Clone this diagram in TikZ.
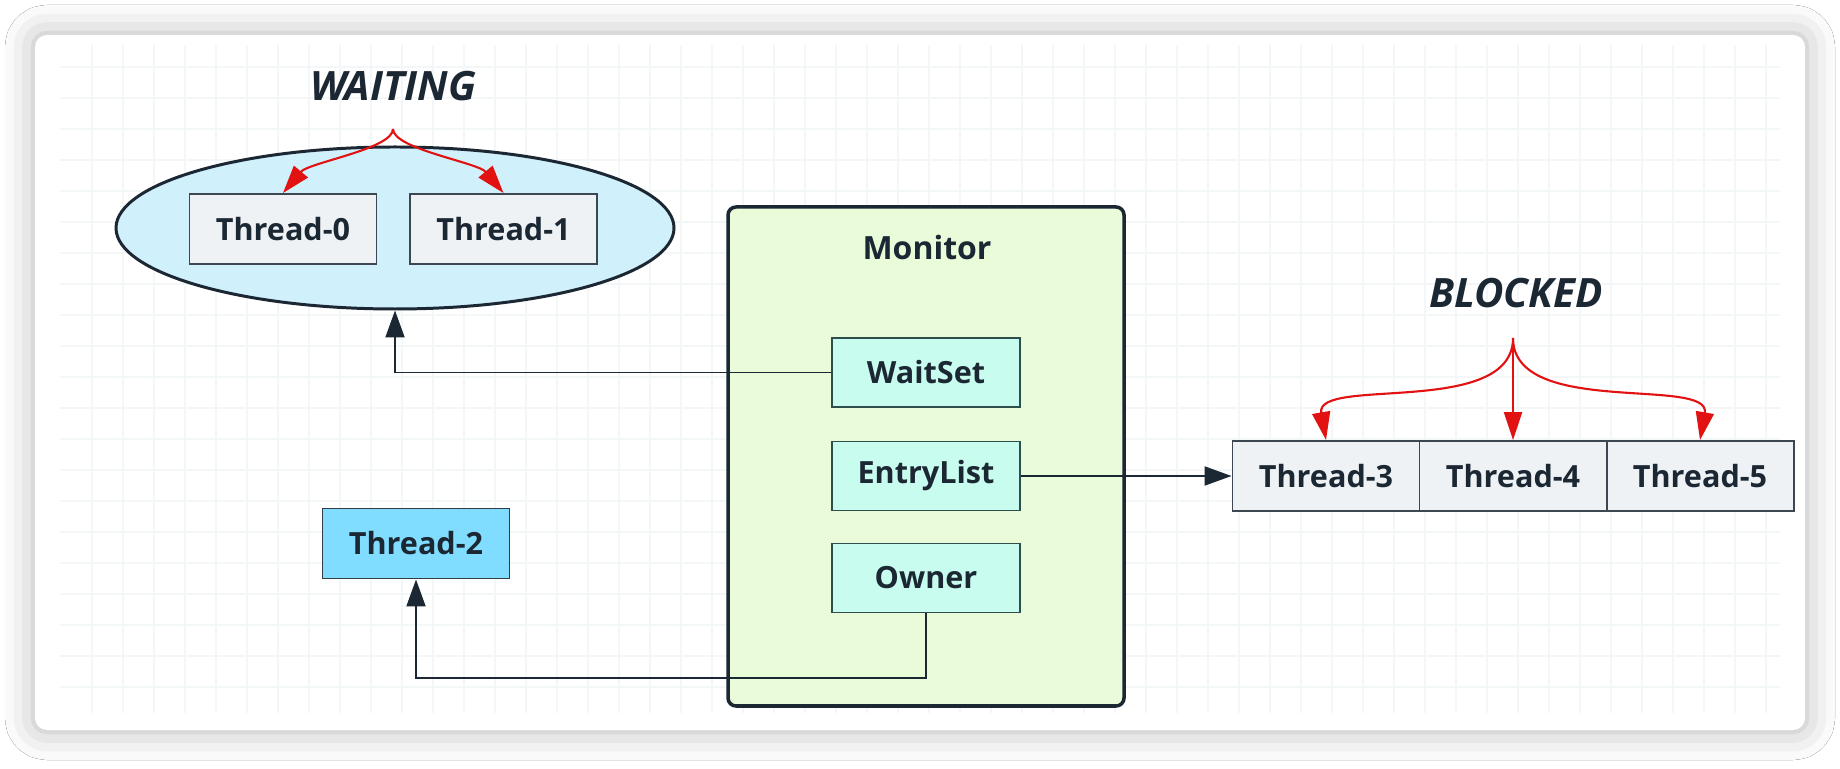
\documentclass[tikz,border=0pt]{standalone}
\usepackage{fontspec}
\setmainfont{Open Sans}
\usetikzlibrary{shapes.geometric,arrows.meta,shadows.blur}
\definecolor{inkblue}{RGB}{27,39,51}
\definecolor{threadgray}{RGB}{238,242,245}
\definecolor{poolblue}{RGB}{208,240,251}
\definecolor{monitorgreen}{RGB}{234,251,218}
\definecolor{slotcyan}{RGB}{200,252,238}
\definecolor{slotline}{RGB}{45,78,74}
\definecolor{ownerblue}{RGB}{128,221,255}
\definecolor{wakered}{RGB}{226,18,18}
\definecolor{gridc}{RGB}{243,247,247}

\begin{document}
\begin{tikzpicture}[
    every node/.style={font=\fontsize{8.7}{10}\selectfont\bfseries, text=inkblue},
    threadbox/.style={draw=inkblue!85, line width=0.55pt, fill=threadgray, minimum width=1.87cm, minimum height=0.70cm, inner sep=0pt},
    slot/.style={draw=slotline, line width=0.55pt, fill=slotcyan, minimum width=1.88cm, minimum height=0.69cm, inner sep=0pt},
    statelabel/.style={font=\fontsize{11.5}{13}\selectfont\bfseries\itshape},
    link/.style={draw=inkblue, line width=0.55pt, -{Triangle[length=0.27cm,width=0.19cm]}},
    wake/.style={draw=wakered, line width=0.6pt, -{Triangle[length=0.28cm,width=0.18cm]}},
  ]
    \useasboundingbox (0,0) rectangle (18.4,7.68);
    \fill[white] (0,0) rectangle (18.4,7.68);
    \fill[white, rounded corners=0.12cm, blur shadow={shadow xshift=0pt, shadow yshift=0pt, shadow blur radius=0.3cm, shadow opacity=30}] (0.35,0.38) rectangle (18.05,7.33);
    \foreach \gx in {0,...,54} \draw[gridc, line width=0.3pt] (0.92+0.31*\gx,0.55) -- ++(0,6.68);
    \foreach \gy in {0,...,20} \draw[gridc, line width=0.3pt] (0.6,7.01-0.31*\gy) -- (17.8,7.01-0.31*\gy);

    \node[statelabel] (waiting) at (3.93,6.82) {WAITING};
    \node[draw=inkblue, line width=0.85pt, fill=poolblue, ellipse, minimum width=5.58cm, minimum height=1.62cm] (pool) at (3.95,5.40) {};
    \node[threadbox] (t0) at (2.83,5.39) {Thread-0};
    \node[threadbox] (t1) at (5.035,5.39) {Thread-1};

    \node[draw=inkblue, line width=1pt, fill=monitorgreen, rounded corners=0.08cm, minimum width=3.96cm, minimum height=4.99cm] (monitor) at (9.26,3.115) {};
    \node[font=\fontsize{9.1}{11}\selectfont\bfseries] (montitle) at (9.27,5.20) {Monitor};
    \node[slot] (waitset) at (9.26,3.955) {WaitSet};
    \node[slot] (entrylist) at (9.26,2.92) {EntryList};
    \node[slot] (owner) at (9.26,1.90) {Owner};

    \node[threadbox, fill=ownerblue, draw=inkblue!90] (t2) at (4.16,2.245) {Thread-2};

    \node[statelabel] (blocked) at (15.16,4.75) {BLOCKED};
    \node[threadbox] (t3) at (13.26,2.92) {Thread-3};
    \node[threadbox] (t4) at (15.13,2.92) {Thread-4};
    \node[threadbox] (t5) at (17.00,2.92) {Thread-5};

    \coordinate (waitfork) at (3.93,6.39);
    \coordinate (blockfork) at (15.13,4.30);
    \coordinate (ownerbend) at (9.26,0.90);

    \draw[link] (waitset.west) -| (pool.south);
    \draw[link] (entrylist.east) -- (t3.west);
    \draw[link] (owner.south) -- (ownerbend) -| (t2.south);

    \draw[wake] (waitfork) to[out=-90, in=50, out distance=0.2cm, in distance=0.4cm] (t0.north);
    \draw[wake] (waitfork) to[out=-90, in=130, out distance=0.2cm, in distance=0.4cm] (t1.north);
    \draw[wake] (blockfork) to[out=-90, in=100, out distance=0.8cm, in distance=0.65cm] (t3.north);
    \draw[wake] (blockfork) -- (t4.north);
    \draw[wake] (blockfork) to[out=-90, in=80, out distance=0.8cm, in distance=0.65cm] (t5.north);
\end{tikzpicture}
\end{document}
